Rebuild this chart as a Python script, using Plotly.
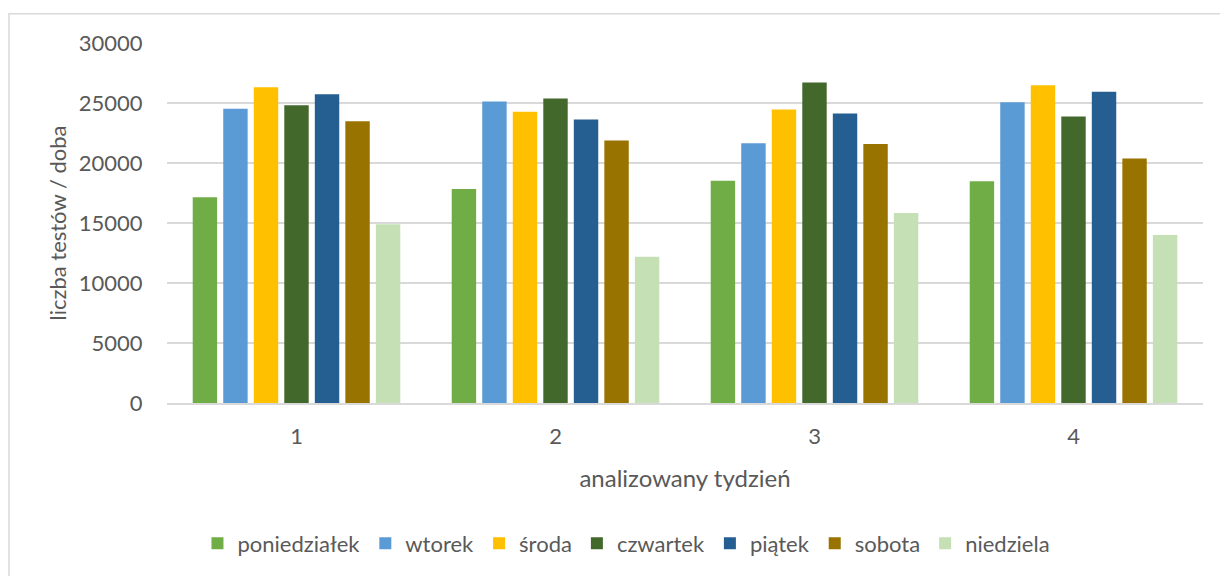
import plotly.graph_objects as go

# Weekly counts of tests per day, grouped by analysed week
weeks = ["1", "2", "3", "4"]
days = ["poniedziałek", "wtorek", "środa", "czwartek", "piątek", "sobota", "niedziela"]
colors = ["#70AD47", "#5B9BD5", "#FFC000", "#43682B", "#255E91", "#997300", "#C5E0B4"]

poniedzialek = [17150, 17830, 18520, 18470]
wtorek = [24520, 25120, 21640, 25070]
sroda = [26310, 24270, 24460, 26480]
czwartek = [24820, 25370, 26700, 23880]
piatek = [25730, 23630, 24130, 25930]
sobota = [23470, 21870, 21580, 20370]
niedziela = [14900, 12190, 15840, 14010]

series = [poniedzialek, wtorek, sroda, czwartek, piatek, sobota, niedziela]

y_ticks = [0, 5000, 10000, 15000, 20000, 25000, 30000]

FONT = "Lato"
TXT = "#595959"
GRID = "#d9d9d9"

fig = go.Figure()
for name, vals, col in zip(days, series, colors):
    fig.add_trace(go.Bar(x=weeks, y=vals, name=name, marker=dict(color=col, line=dict(width=0))))

fig.update_layout(
    width=1220,
    height=576,
    margin=dict(l=167, r=17, t=43, b=171),
    paper_bgcolor="white",
    plot_bgcolor="white",
    barmode="group",
    bargap=0.175,
    bargroupgap=0.2,
    font=dict(family=FONT, size=22, color=TXT),
    showlegend=True,
    legend=dict(
        orientation="h",
        x=0.4435, xanchor="center",
        y=-0.39, yanchor="middle",
        font=dict(family=FONT, size=22, color=TXT),
        itemwidth=30,
        tracegroupgap=0,
    ),
    xaxis=dict(
        type="category",
        showgrid=False,
        showline=True,
        linecolor=GRID,
        linewidth=2,
        ticks="outside",
        ticklen=13,
        tickcolor="rgba(0,0,0,0)",
        tickfont=dict(family=FONT, size=22, color=TXT),
        title=dict(text="analizowany tydzień", font=dict(family=FONT, size=24, color=TXT), standoff=22),
    ),
    yaxis=dict(
        range=[0, 30000],
        tickvals=y_ticks,
        ticktext=[str(v) for v in y_ticks],
        showgrid=True,
        gridcolor=GRID,
        gridwidth=1.5,
        zeroline=False,
        showline=False,
        ticks="outside",
        ticklen=19,
        tickcolor="rgba(0,0,0,0)",
        tickfont=dict(family=FONT, size=22, color=TXT),
        title=dict(text="liczba testów / doba", font=dict(family=FONT, size=22, color=TXT), standoff=6),
    ),
    shapes=[
        dict(
            type="rect", xref="paper", yref="paper",
            x0=-0.1525, x1=1.02, y0=-0.49, y1=1.081,
            line=dict(color=GRID, width=1.5), fillcolor="rgba(0,0,0,0)", layer="below",
        )
    ],
)

fig.write_html("out.html")
